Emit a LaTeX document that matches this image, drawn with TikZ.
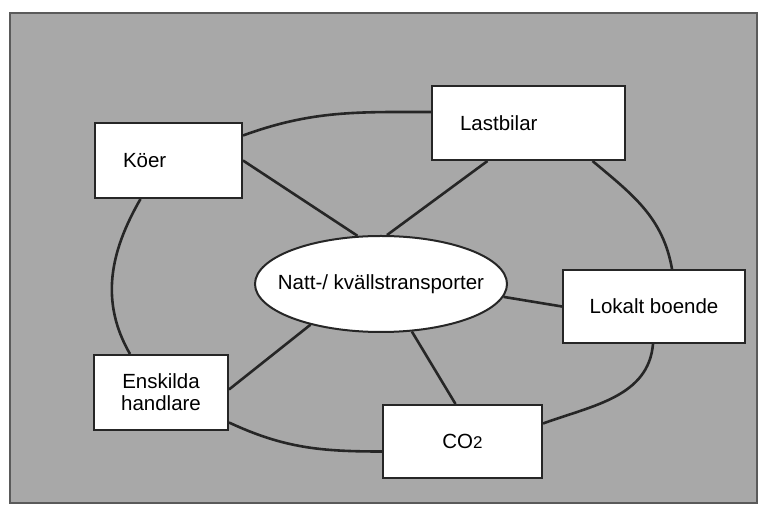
\documentclass[tikz,border=0pt]{standalone}
\usepackage{fontspec}
\setmainfont{Liberation Sans}
\usepackage{xcolor}
\usepackage{tikz}
\usetikzlibrary{
  shapes.geometric
}
\definecolor{scangray}{RGB}{168,168,168}
\definecolor{frameline}{RGB}{90,90,90}
\definecolor{inkblack}{RGB}{38,38,38}
\newcommand{\boxfont}{\fontsize{20.5}{22}\selectfont}
\tikzset{
  topicbox/.style={
    draw=inkblack,
    line width=2pt,
    fill=white,
    align=center,
    inner sep=0pt,
    font=\boxfont
  },
  leftbox/.style={topicbox,align=left,inner xsep=28pt},
  centrebubble/.style={
    ellipse,
    draw=inkblack,
    line width=2pt,
    fill=white,
    inner sep=0pt,
    minimum width=252pt,
    minimum height=96pt,
    font=\boxfont
  },
  ringline/.style={draw=inkblack,line width=2.6pt},
  spokeline/.style={draw=inkblack,line width=2.6pt},
}

\begin{document}
\begin{tikzpicture}[x=1pt,y=1pt]
  \useasboundingbox (0,0) rectangle (765,511);
  \draw[frameline,fill=scangray,line width=1.2pt] (10,8) rectangle (757,498);

  \node[leftbox,text width=91pt,minimum height=75pt] (koer) at (168.5,350.5) {Köer};
  \node[leftbox,text width=137pt,minimum height=74pt] (lastbilar) at (528.5,388) {Lastbilar};
  \node[topicbox,minimum width=182pt,minimum height=73pt] (boende) at (654,204.5) {Lokalt boende};
  \node[topicbox,minimum width=159pt,minimum height=73pt] (co2) at (462.5,69.5) {CO{\fontsize{17}{17}\selectfont 2}};
  \node[topicbox,minimum width=134pt,minimum height=75pt] (handlare) at (161,118.5) {Enskilda\\handlare};
  \node[centrebubble] (natt) at (381,227) {\raisebox{-6pt}{\makebox[0pt]{Natt-/ kvällstransporter}}};

  % outer ring
  \draw[ringline] ([yshift=25pt]koer.east) to[out=20,in=180] ([yshift=11pt]lastbilar.west);
  \draw[ringline] ([xshift=64pt]lastbilar.south) to[out=-40,in=100] ([xshift=18pt]boende.north);
  \draw[ringline] ([xshift=-1pt]boende.south) to[out=-95,in=20] ([yshift=18pt]co2.east);
  \draw[ringline] ([yshift=-10pt]co2.west) to[out=180,in=-25] ([yshift=-30pt]handlare.east);
  \draw[ringline] ([xshift=-31pt]handlare.north) to[out=120,in=-120] ([xshift=-28pt]koer.south);

  % spokes to the centre
  \draw[spokeline] (koer.east) -- (natt.116);
  \draw[spokeline] ([xshift=-41pt]lastbilar.south) -- (natt.83);
  \draw[spokeline] (natt.-6) -- (boende.west);
  \draw[spokeline] (natt.-57) -- ([xshift=-7pt]co2.north);
  \draw[spokeline] (natt.-150) -- ([yshift=3pt]handlare.east);
\end{tikzpicture}
\end{document}
